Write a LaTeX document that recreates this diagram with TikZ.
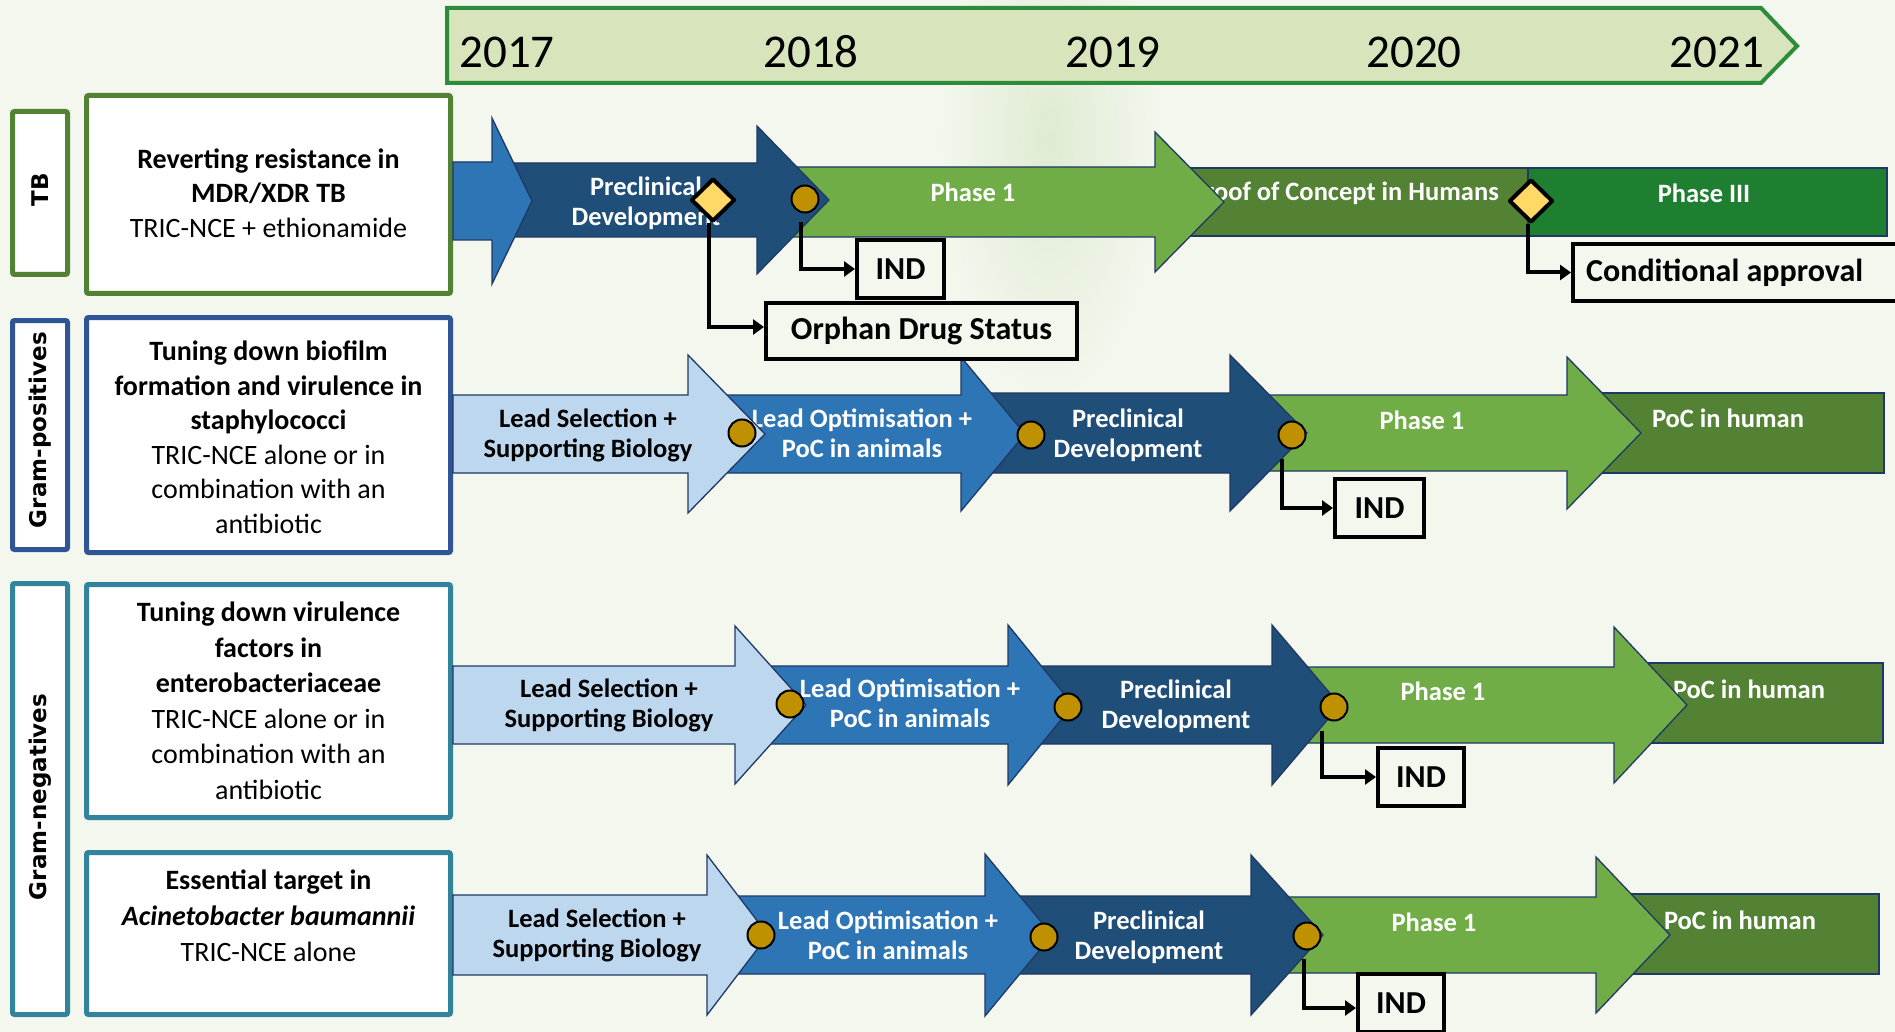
\documentclass[tikz,border=0pt]{standalone}
\usepackage{fontspec}
\setmainfont{Carlito}
\newfontfamily\labfont{DejaVu Sans}
\usetikzlibrary{arrows.meta,shapes.geometric}
\definecolor{bgc}{HTML}{F3F7EE}
\definecolor{blob}{HTML}{DFEBD2}
\definecolor{tlfill}{HTML}{D8E4BC}
\definecolor{tlline}{HTML}{2C8C3C}
\definecolor{lblue}{HTML}{BDD7EE}
\definecolor{mblue}{HTML}{2E75B6}
\definecolor{dblue}{HTML}{1F4E79}
\definecolor{lgreen}{HTML}{70AD47}
\definecolor{olive}{HTML}{548235}
\definecolor{phthree}{HTML}{1E7F31}
\definecolor{navy}{HTML}{203864}
\definecolor{tbcol}{HTML}{548235}
\definecolor{gpcol}{HTML}{2F5597}
\definecolor{gncol}{HTML}{31849B}
\definecolor{dfill}{HTML}{FFD966}
\definecolor{cfill}{HTML}{BF9000}
\tikzset{
  arrowstyle/.style={draw=navy, line width=1.3pt, line join=miter},
  atxt/.style={inner sep=0pt, align=center, text=white, font=\fontsize{26.5}{30}\selectfont\bfseries},
  btxt/.style={atxt, text=black},
  dtxt/.style={inner sep=0pt, align=center, font=\fontsize{28}{34.5}\selectfont},
  yeartxt/.style={inner sep=0pt, font=\fontsize{47}{50}\selectfont},
  labbox/.style={draw, line width=5pt, fill=white, rounded corners=2pt, minimum width=55pt, inner sep=0pt},
  descbox/.style={draw, line width=5pt, fill=white, rounded corners=2pt, minimum width=364pt, inner sep=0pt},
  labtxt/.style={inner sep=0pt, rotate=90, font=\labfont\fontsize{23}{26}\selectfont\bfseries},
  mcirc/.style={circle, draw=black, line width=2pt, fill=cfill, minimum size=27pt, inner sep=0pt},
  mdiam/.style={diamond, draw=black, line width=4pt, line join=round, fill=dfill, minimum width=44pt, minimum height=43pt, inner sep=0pt},
  indbox/.style={draw=black, line width=4pt, fill=bgc, inner sep=0pt, font=\fontsize{32}{38}\selectfont\bfseries},
  conn/.style={line width=4pt, -{Triangle[length=11pt,width=15pt]}},
}
% fill, x0, xb, xt, yc, body half height, head half height
\newcommand{\barrow}[7]{%
  \filldraw[arrowstyle, fill=#1] (#2,#5-#6) -- (#3,#5-#6) -- (#3,#5-#7) -- (#4,#5) -- (#3,#5+#7) -- (#3,#5+#6) -- (#2,#5+#6) -- cycle;}
% fill, x0, x1, yc, half height
\newcommand{\brect}[5]{%
  \filldraw[arrowstyle, fill=#1] (#2,#4-#5) rectangle (#3,#4+#5);}
\begin{document}
\begin{tikzpicture}[x=1pt, y=-1pt]
\useasboundingbox (0,0) rectangle (1895,1032);
\fill[bgc] (0,0) rectangle (1895,1032);
\shade[inner color=blob, outer color=bgc] (1050,140) ellipse (110 and 260);

% timeline
\filldraw[fill=tlfill, draw=tlline, line width=4pt, line join=miter] (447,8) -- (1761,8) -- (1797,46) -- (1761,83) -- (447,83) -- cycle;
\node[yeartxt] (y2017) at (507,52) {2017};
\node[yeartxt] (y2018) at (811,52) {2018};
\node[yeartxt] (y2019) at (1113,52) {2019};
\node[yeartxt] (y2020) at (1414,52) {2020};
\node[yeartxt] (y2021) at (1717,52) {2021};

% left label boxes
\node[labbox, draw=tbcol, minimum height=163pt] (labtb) at (40,193) {};
\node[labtxt] (labtbt) at (40,190) {TB};
\node[labbox, draw=gpcol, minimum height=229pt] (labgp) at (40,435) {};
\node[labtxt] (labgpt) at (40,430) {Gram-positives};
\node[labbox, draw=gncol, minimum height=431pt] (labgn) at (40,799) {};
\node[labtxt] (labgnt) at (40,797) {Gram-negatives};

% description boxes
\node[descbox, draw=tbcol, minimum height=198pt] (dtb) at (268.5,194.5) {};
\node[dtxt] (dtbt) at (268.5,193) {{\bfseries Reverting resistance in}\\{\bfseries MDR/XDR TB}\\TRIC-NCE + ethionamide};
\node[descbox, draw=gpcol, minimum height=235pt] (dgp) at (268.5,435) {};
\node[dtxt] (dgpt) at (268.5,437.5) {{\bfseries Tuning down biofilm}\\{\bfseries formation and virulence in}\\{\bfseries staphylococci}\\TRIC-NCE alone or in\\combination with an\\antibiotic};
\node[descbox, draw=gncol, minimum height=233pt] (dgn) at (268.5,701) {};
\node[dtxt, font=\fontsize{28}{35.5}\selectfont] (dgnt) at (268.5,701) {{\bfseries Tuning down virulence}\\{\bfseries factors in}\\{\bfseries enterobacteriaceae}\\TRIC-NCE alone or in\\combination with an\\antibiotic};
\node[descbox, draw=gncol, minimum height=162pt] (dac) at (268.5,933.5) {};
\node[dtxt, font=\fontsize{28}{36}\selectfont] (dact) at (268.5,916) {{\bfseries Essential target in}\\{\bfseries\itshape Acinetobacter baumannii}\\TRIC-NCE alone};

% ---------- TB row ----------
\brect{phthree}{1528}{1887}{202}{34}
\node[atxt] (tb-p3) at (1704,193) {Phase III};
\brect{olive}{1170}{1528}{202}{34}
\node[atxt, anchor=east] (tb-poc) at (1499,193) {Proof of Concept in Humans};
\barrow{lgreen}{770}{1155}{1224}{202}{35}{70}
\node[atxt] (tb-p1) at (973,192) {Phase 1};
\barrow{dblue}{500}{757}{829}{200}{37}{74}
\node[atxt] (tb-pd) at (646,203) {Preclinical\\Development};
\barrow{mblue}{453}{492}{532}{201}{39}{83}

% ---------- Gram-positives row ----------
\brect{olive}{1585}{1884}{433}{40}
\node[atxt] (gp-poc) at (1728,418) {PoC in human};
\barrow{lgreen}{1245}{1567}{1641}{433}{38}{76}
\node[atxt] (gp-p1) at (1422,420) {Phase 1};
\barrow{dblue}{975}{1230}{1307}{433}{40}{78}
\node[atxt] (gp-pd) at (1128,435) {Preclinical\\Development};
\barrow{mblue}{700}{961}{1025}{434}{39}{77}
\node[atxt] (gp-lo) at (862,433) {Lead Optimisation +\\PoC in animals};
\barrow{lblue}{453}{688}{765}{434}{39}{79}
\node[btxt] (gp-ls) at (588,435) {Lead Selection +\\Supporting Biology};

% ---------- Gram-negatives row 1 ----------
\brect{olive}{1630}{1883}{703}{40}
\node[atxt] (gn-poc) at (1749,689) {PoC in human};
\barrow{lgreen}{1285}{1614}{1687}{705}{38}{78}
\node[atxt] (gn-p1) at (1443,691) {Phase 1};
\barrow{dblue}{1020}{1272}{1340}{705}{39}{80}
\node[atxt] (gn-pd) at (1176,706) {Preclinical\\Development};
\barrow{mblue}{750}{1008}{1073}{705}{39}{80}
\node[atxt] (gn-lo) at (910,703) {Lead Optimisation +\\PoC in animals};
\barrow{lblue}{453}{735}{806}{705}{39}{79}
\node[btxt] (gn-ls) at (609,705) {Lead Selection +\\Supporting Biology};

% ---------- Gram-negatives row 2 ----------
\brect{olive}{1615}{1879}{934}{40}
\node[atxt] (ac-poc) at (1740,920) {PoC in human};
\barrow{lgreen}{1265}{1596}{1670}{935}{38}{78}
\node[atxt] (ac-p1) at (1434,922) {Phase 1};
\barrow{dblue}{1000}{1251}{1323}{935}{39}{80}
\node[atxt] (ac-pd) at (1149,937) {Preclinical\\Development};
\barrow{mblue}{720}{985}{1052}{935}{39}{81}
\node[atxt] (ac-lo) at (888,935) {Lead Optimisation +\\PoC in animals};
\barrow{lblue}{453}{707}{768}{935}{40}{80}
\node[btxt] (ac-ls) at (597,935) {Lead Selection +\\Supporting Biology};

% ---------- milestone boxes ----------
\node[indbox, minimum width=87pt, minimum height=58pt] (tb-ind) at (900.5,269) {IND};
\node[indbox, minimum width=311pt, minimum height=56pt] (tb-orph) at (921.5,331) {Orphan Drug Status};
\node[indbox, minimum width=330pt, minimum height=57pt] (tb-cond) at (1738,272.5) {};
\node[inner sep=0pt, anchor=west, font=\fontsize{32}{38}\selectfont\bfseries] (tb-condt) at (1586,272.5) {Conditional approval};
\node[indbox, minimum width=89pt, minimum height=58pt] (gp-ind) at (1379.5,508) {IND};
\node[indbox, minimum width=86pt, minimum height=58pt] (gn-ind) at (1421,777) {IND};
\node[indbox, minimum width=86pt, minimum height=58pt] (ac-ind) at (1401,1003) {IND};

% ---------- markers ----------
\node[mdiam] (tb-d1) at (713,200) {};
\node[mdiam] (tb-d2) at (1531,201) {};
\node[mcirc] (tb-c1) at (805,199) {};
\node[mcirc] (gp-c1) at (742,433) {};
\node[mcirc] (gp-c2) at (1031,435) {};
\node[mcirc] (gp-c3) at (1292,435) {};
\node[mcirc] (gn-c1) at (790,704) {};
\node[mcirc] (gn-c2) at (1068,707) {};
\node[mcirc] (gn-c3) at (1334,707) {};
\node[mcirc] (ac-c1) at (761,935) {};
\node[mcirc] (ac-c2) at (1044,937) {};
\node[mcirc] (ac-c3) at (1307,936) {};

% ---------- connectors ----------
\draw[conn] ([xshift=-4pt]tb-d1.south) |- ([yshift=4pt]tb-orph.west);
\draw[conn] ([xshift=-4pt,yshift=-9pt]tb-c1.south) |- (tb-ind.west);
\draw[conn] ([xshift=-3pt]tb-d2.south) |- (tb-cond.west);
\draw[conn] ([xshift=-10pt,yshift=-9pt]gp-c3.south) |- (gp-ind.west);
\draw[conn] ([xshift=-12pt,yshift=-9pt]gn-c3.south) |- (gn-ind.west);
\draw[conn] ([xshift=-3pt,yshift=-8pt]ac-c3.south) |- ([yshift=-5pt]ac-ind.west);
\end{tikzpicture}
\end{document}
